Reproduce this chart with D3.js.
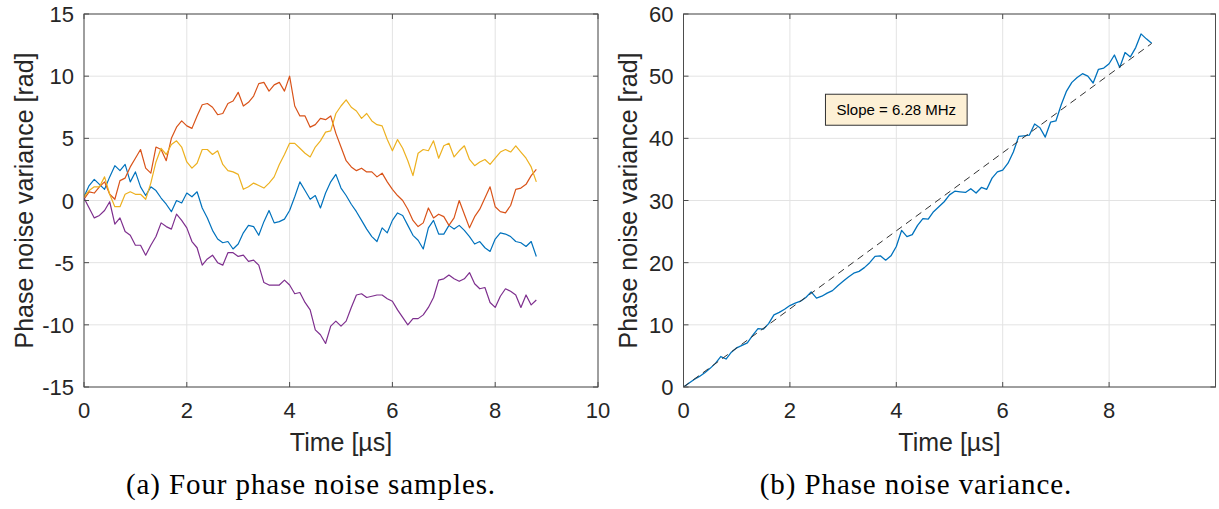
<!DOCTYPE html>
<html>
<head>
<meta charset="utf-8">
<script src="https://cdn.jsdelivr.net/npm/d3@7"></script>
<style>
  body { margin: 0; background: #fff; }
  svg { display: block; }
  text { font-family: "Liberation Sans", Arial, sans-serif; fill: #262626; }
  .caption { font-family: "Liberation Serif", "Times New Roman", serif; fill: #000; }
</style>
</head>
<body>
<div id="chart"></div>
<script>
"use strict";

// sample grid, 0.1 µs
const sampleTimes = d3.range(89).map(i => i / 10);

const phaseBlue = [
  0.3, 1.2, 1.7, 1.3, 0.9, 1.9, 2.8, 2.4, 2.9, 1.5,
  2.3, 1.1, 0.4, 1.1, 0.8, 0.2, -0.3, -0.9, 0.0, -0.2,
  0.6, 0.3, 0.7, -0.6, -1.4, -2.4, -3.1, -3.4, -3.3, -3.9,
  -3.5, -2.6, -2.0, -2.1, -2.8, -1.7, -0.8, -1.8, -1.7, -1.5,
  -0.8, 0.3, 1.5, 0.8, 0.1, 0.4, -0.6, 0.6, 1.5, 2.1,
  1.0, 0.4, -0.3, -0.9, -1.6, -2.3, -2.9, -3.3, -2.2, -2.6,
  -1.6, -1.0, -1.2, -2.0, -2.8, -3.2, -3.9, -2.2, -1.6, -2.7,
  -2.7, -2.0, -2.3, -2.0, -2.4, -2.9, -3.5, -3.3, -3.8, -4.1,
  -3.1, -2.6, -2.7, -2.9, -3.3, -3.4, -3.7, -3.3, -4.5
];
const phaseOrange = [
  0.1, 0.7, 0.6, 1.1, 1.5, 0.5, 0.1, 1.6, 1.8, 2.7,
  3.4, 4.1, 2.6, 2.2, 4.3, 4.1, 3.2, 5.0, 5.9, 6.4,
  6.0, 5.8, 6.8, 7.7, 7.8, 7.5, 6.9, 7.0, 7.8, 8.0,
  8.7, 7.6, 7.9, 8.4, 9.4, 9.5, 8.8, 9.3, 9.5, 8.8,
  10.0, 7.6, 6.8, 6.8, 5.9, 6.1, 6.6, 6.5, 6.8, 5.4,
  4.3, 3.2, 2.7, 2.4, 2.6, 2.3, 2.3, 1.9, 2.2, 1.5,
  0.9, 0.4, 0.0, -0.7, -1.6, -2.1, -1.8, -0.6, -1.4, -1.1,
  -1.3, -2.0, -1.4, 0.0, -1.1, -2.2, -1.3, -0.7, 0.2, 1.1,
  -0.5, -0.9, -1.0, -0.4, 0.9, 1.0, 1.3, 2.0, 2.5
];
const phaseYellow = [
  0.3, 0.8, 1.1, 1.1, 1.9, 0.5, -0.5, -0.5, 0.5, 0.7,
  0.5, 0.5, 0.1, 1.4, 3.1, 4.2, 3.7, 4.5, 4.8, 4.3,
  3.1, 2.6, 3.0, 4.1, 4.1, 3.7, 4.0, 2.9, 2.4, 2.3,
  2.1, 0.9, 1.1, 1.4, 1.2, 1.0, 1.4, 1.9, 2.9, 3.7,
  4.6, 4.6, 4.2, 3.8, 3.5, 4.3, 4.8, 5.5, 5.6, 7.0,
  7.6, 8.1, 7.5, 7.2, 6.6, 7.0, 6.4, 6.1, 6.0, 4.9,
  4.0, 4.9, 4.2, 3.2, 2.0, 3.8, 4.1, 4.0, 4.8, 3.4,
  4.4, 4.6, 3.5, 4.0, 4.4, 3.3, 2.8, 3.1, 3.3, 2.9,
  3.4, 3.9, 4.1, 3.9, 4.4, 3.9, 3.4, 2.7, 1.5
];
const phasePurple = [
  0.2, -0.6, -1.4, -1.2, -0.8, -0.1, -1.9, -1.4, -2.5, -2.8,
  -3.6, -3.6, -4.4, -3.6, -2.9, -1.8, -2.1, -2.3, -1.1, -1.6,
  -2.2, -3.3, -3.8, -5.2, -4.7, -4.4, -5.0, -5.2, -4.2, -4.2,
  -4.5, -4.4, -4.9, -4.8, -5.2, -6.6, -6.8, -6.8, -6.8, -6.4,
  -6.8, -7.5, -7.4, -8.2, -8.8, -10.4, -10.8, -11.5, -10.1, -9.7,
  -10.1, -9.7, -8.6, -7.6, -7.5, -7.8, -7.7, -7.6, -7.6, -7.9,
  -8.1, -8.8, -9.4, -10.0, -9.5, -9.5, -9.2, -8.6, -7.8, -6.4,
  -6.3, -6.0, -6.3, -6.5, -6.3, -5.8, -6.7, -7.1, -7.0, -8.2,
  -8.6, -7.7, -7.1, -7.3, -7.6, -8.6, -7.6, -8.4, -8.0
];
const phaseColors = ["#0072BD", "#D95319", "#EDB120", "#7E2F8E"];

const varianceValues = [
  0, 0.6, 1.2, 1.7, 2.3, 3.0, 3.8, 4.9, 4.5, 5.6,
  6.3, 6.7, 7.1, 8.3, 9.4, 9.3, 10.2, 11.6, 12.0, 12.5,
  13.1, 13.5, 13.8, 14.4, 15.3, 14.3, 14.6, 15.1, 15.5, 16.3,
  17.0, 17.7, 18.3, 18.6, 19.2, 20.0, 21.0, 21.1, 20.4, 21.1,
  22.6, 25.2, 24.2, 24.5, 26.0, 27.1, 27.0, 28.2, 29.0, 29.8,
  30.9, 31.5, 31.4, 31.3, 31.9, 31.2, 32.1, 31.8, 33.6, 34.6,
  34.9, 36.0, 37.8, 40.3, 40.4, 40.5, 42.3, 41.7, 40.2, 42.6,
  42.8, 45.4, 47.6, 49.0, 49.8, 50.4, 50.0, 48.9, 51.1, 51.3,
  52.0, 53.4, 51.4, 53.8, 53.1, 54.6, 56.8, 56.0, 55.3
];
const slopeMHz = 6.28;
const fitTimes = [0, 8.8];

const leftXTicks = [0, 2, 4, 6, 8, 10];
const leftYTicks = [-15, -10, -5, 0, 5, 10, 15];
const rightXTicks = [0, 2, 4, 6, 8];
const rightYTicks = [0, 10, 20, 30, 40, 50, 60];

const xLabel = "Time [µs]";
const yLabel = "Phase noise variance [rad]";
const captions = ["(a) Four phase noise samples.", "(b) Phase noise variance."];
const slopeText = "Slope = " + slopeMHz.toFixed(2) + " MHz";

const W = 1219, H = 509;
const svg = d3.select("#chart").append("svg")
  .attr("width", W).attr("height", H)
  .style("background", "#fff");

function panel(opt) {
  const x = d3.scaleLinear().domain(opt.xDomain).range([opt.left, opt.right]);
  const y = d3.scaleLinear().domain(opt.yDomain).range([opt.bottom, opt.top]);
  const g = svg.append("g");

  const clipId = "clip-" + opt.id;
  svg.append("clipPath").attr("id", clipId).append("rect")
    .attr("x", opt.left).attr("y", opt.top)
    .attr("width", opt.right - opt.left).attr("height", opt.bottom - opt.top);

  // grid
  g.append("g").selectAll("line").data(opt.xTicks).join("line")
    .attr("x1", d => x(d)).attr("x2", d => x(d))
    .attr("y1", opt.top).attr("y2", opt.bottom)
    .attr("stroke", "#e3e3e3").attr("stroke-width", 1);
  g.append("g").selectAll("line").data(opt.yTicks).join("line")
    .attr("x1", opt.left).attr("x2", opt.right)
    .attr("y1", d => y(d)).attr("y2", d => y(d))
    .attr("stroke", "#e3e3e3").attr("stroke-width", 1);

  const plot = g.append("g").attr("clip-path", "url(#" + clipId + ")");
  opt.draw(plot, x, y);

  // box + inward ticks (MATLAB style)
  const axisColor = "#4d4d4d";
  const tickLen = 5;
  g.append("rect")
    .attr("x", opt.left).attr("y", opt.top)
    .attr("width", opt.right - opt.left).attr("height", opt.bottom - opt.top)
    .attr("fill", "none").attr("stroke", axisColor).attr("stroke-width", 1);
  const ticks = g.append("g").attr("stroke", axisColor).attr("stroke-width", 1);
  opt.xTicks.forEach(d => {
    ticks.append("line").attr("x1", x(d)).attr("x2", x(d)).attr("y1", opt.bottom).attr("y2", opt.bottom - tickLen);
    ticks.append("line").attr("x1", x(d)).attr("x2", x(d)).attr("y1", opt.top).attr("y2", opt.top + tickLen);
  });
  opt.yTicks.forEach(d => {
    ticks.append("line").attr("x1", opt.left).attr("x2", opt.left + tickLen).attr("y1", y(d)).attr("y2", y(d));
    ticks.append("line").attr("x1", opt.right).attr("x2", opt.right - tickLen).attr("y1", y(d)).attr("y2", y(d));
  });

  // tick labels
  g.append("g").selectAll("text").data(opt.xTicks).join("text")
    .attr("x", d => x(d)).attr("y", opt.bottom + 31)
    .attr("text-anchor", "middle").style("font-size", "22px")
    .text(d => d);
  g.append("g").selectAll("text").data(opt.yTicks).join("text")
    .attr("x", opt.left - 10).attr("y", d => y(d) + 8)
    .attr("text-anchor", "end").style("font-size", "22px")
    .text(d => d);

  // axis labels
  g.append("text")
    .attr("x", (x(0) + x(opt.xLabelAt)) / 2).attr("y", opt.bottom + 64)
    .attr("text-anchor", "middle").style("font-size", "25px")
    .text(xLabel);
  g.append("text")
    .attr("transform", "translate(" + opt.yLabelX + "," + ((opt.top + opt.bottom) / 2) + ")rotate(-90)")
    .attr("text-anchor", "middle").style("font-size", "25px")
    .text(yLabel);

  // caption
  svg.append("text").attr("class", "caption")
    .attr("x", opt.captionX).attr("y", 494)
    .attr("text-anchor", "middle")
    .style("font-size", "29px").style("letter-spacing", "0.9px")
    .text(opt.caption);

  return {x, y, g};
}

// (a) four phase noise samples
panel({
  id: "a",
  left: 84, right: 598, top: 14, bottom: 387,
  xDomain: [0, 10], yDomain: [-15, 15],
  xTicks: leftXTicks, yTicks: leftYTicks,
  xLabelAt: 10, yLabelX: 33, captionX: 311,
  caption: captions[0],
  draw: (plot, x, y) => {
    const line = d3.line().x((d, i) => x(sampleTimes[i])).y(d => y(d));
    [phaseBlue, phaseOrange, phaseYellow, phasePurple].forEach((s, k) => {
      plot.append("path").datum(s)
        .attr("d", line)
        .attr("fill", "none")
        .attr("stroke", phaseColors[k])
        .attr("stroke-width", 1.2)
        .attr("stroke-linejoin", "round");
    });
  }
});

// (b) phase noise variance
const right = panel({
  id: "b",
  left: 683.5, right: 1215.5, top: 14, bottom: 387,
  xDomain: [0, 10], yDomain: [0, 60],
  xTicks: rightXTicks, yTicks: rightYTicks,
  xLabelAt: 10, yLabelX: 637, captionX: 916,
  caption: captions[1],
  draw: (plot, x, y) => {
    const line = d3.line().x((d, i) => x(sampleTimes[i])).y(d => y(d));
    plot.append("path").datum(varianceValues)
      .attr("d", line)
      .attr("fill", "none")
      .attr("stroke", "#0072BD")
      .attr("stroke-width", 1.3)
      .attr("stroke-linejoin", "round");
    const fit = d3.line().x(d => x(d)).y(d => y(d * slopeMHz));
    plot.append("path").datum(fitTimes)
      .attr("d", fit)
      .attr("fill", "none")
      .attr("stroke", "#333")
      .attr("stroke-width", 1)
      .attr("stroke-dasharray", "7,5");
  }
});

// annotation box
const boxCx = right.x(4.0), boxCy = right.y(44.6);
const note = right.g.append("g");
const noteText = note.append("text")
  .attr("x", boxCx).attr("y", boxCy + 5)
  .attr("text-anchor", "middle").style("font-size", "15px")
  .style("fill", "#000")
  .text(slopeText);
const bb = noteText.node().getBBox();
note.insert("rect", "text")
  .attr("x", bb.x - 11).attr("y", boxCy - 15.5)
  .attr("width", bb.width + 22).attr("height", 31)
  .attr("fill", "#fdf0d5").attr("stroke", "#333").attr("stroke-width", 1);
</script>
</body>
</html>
